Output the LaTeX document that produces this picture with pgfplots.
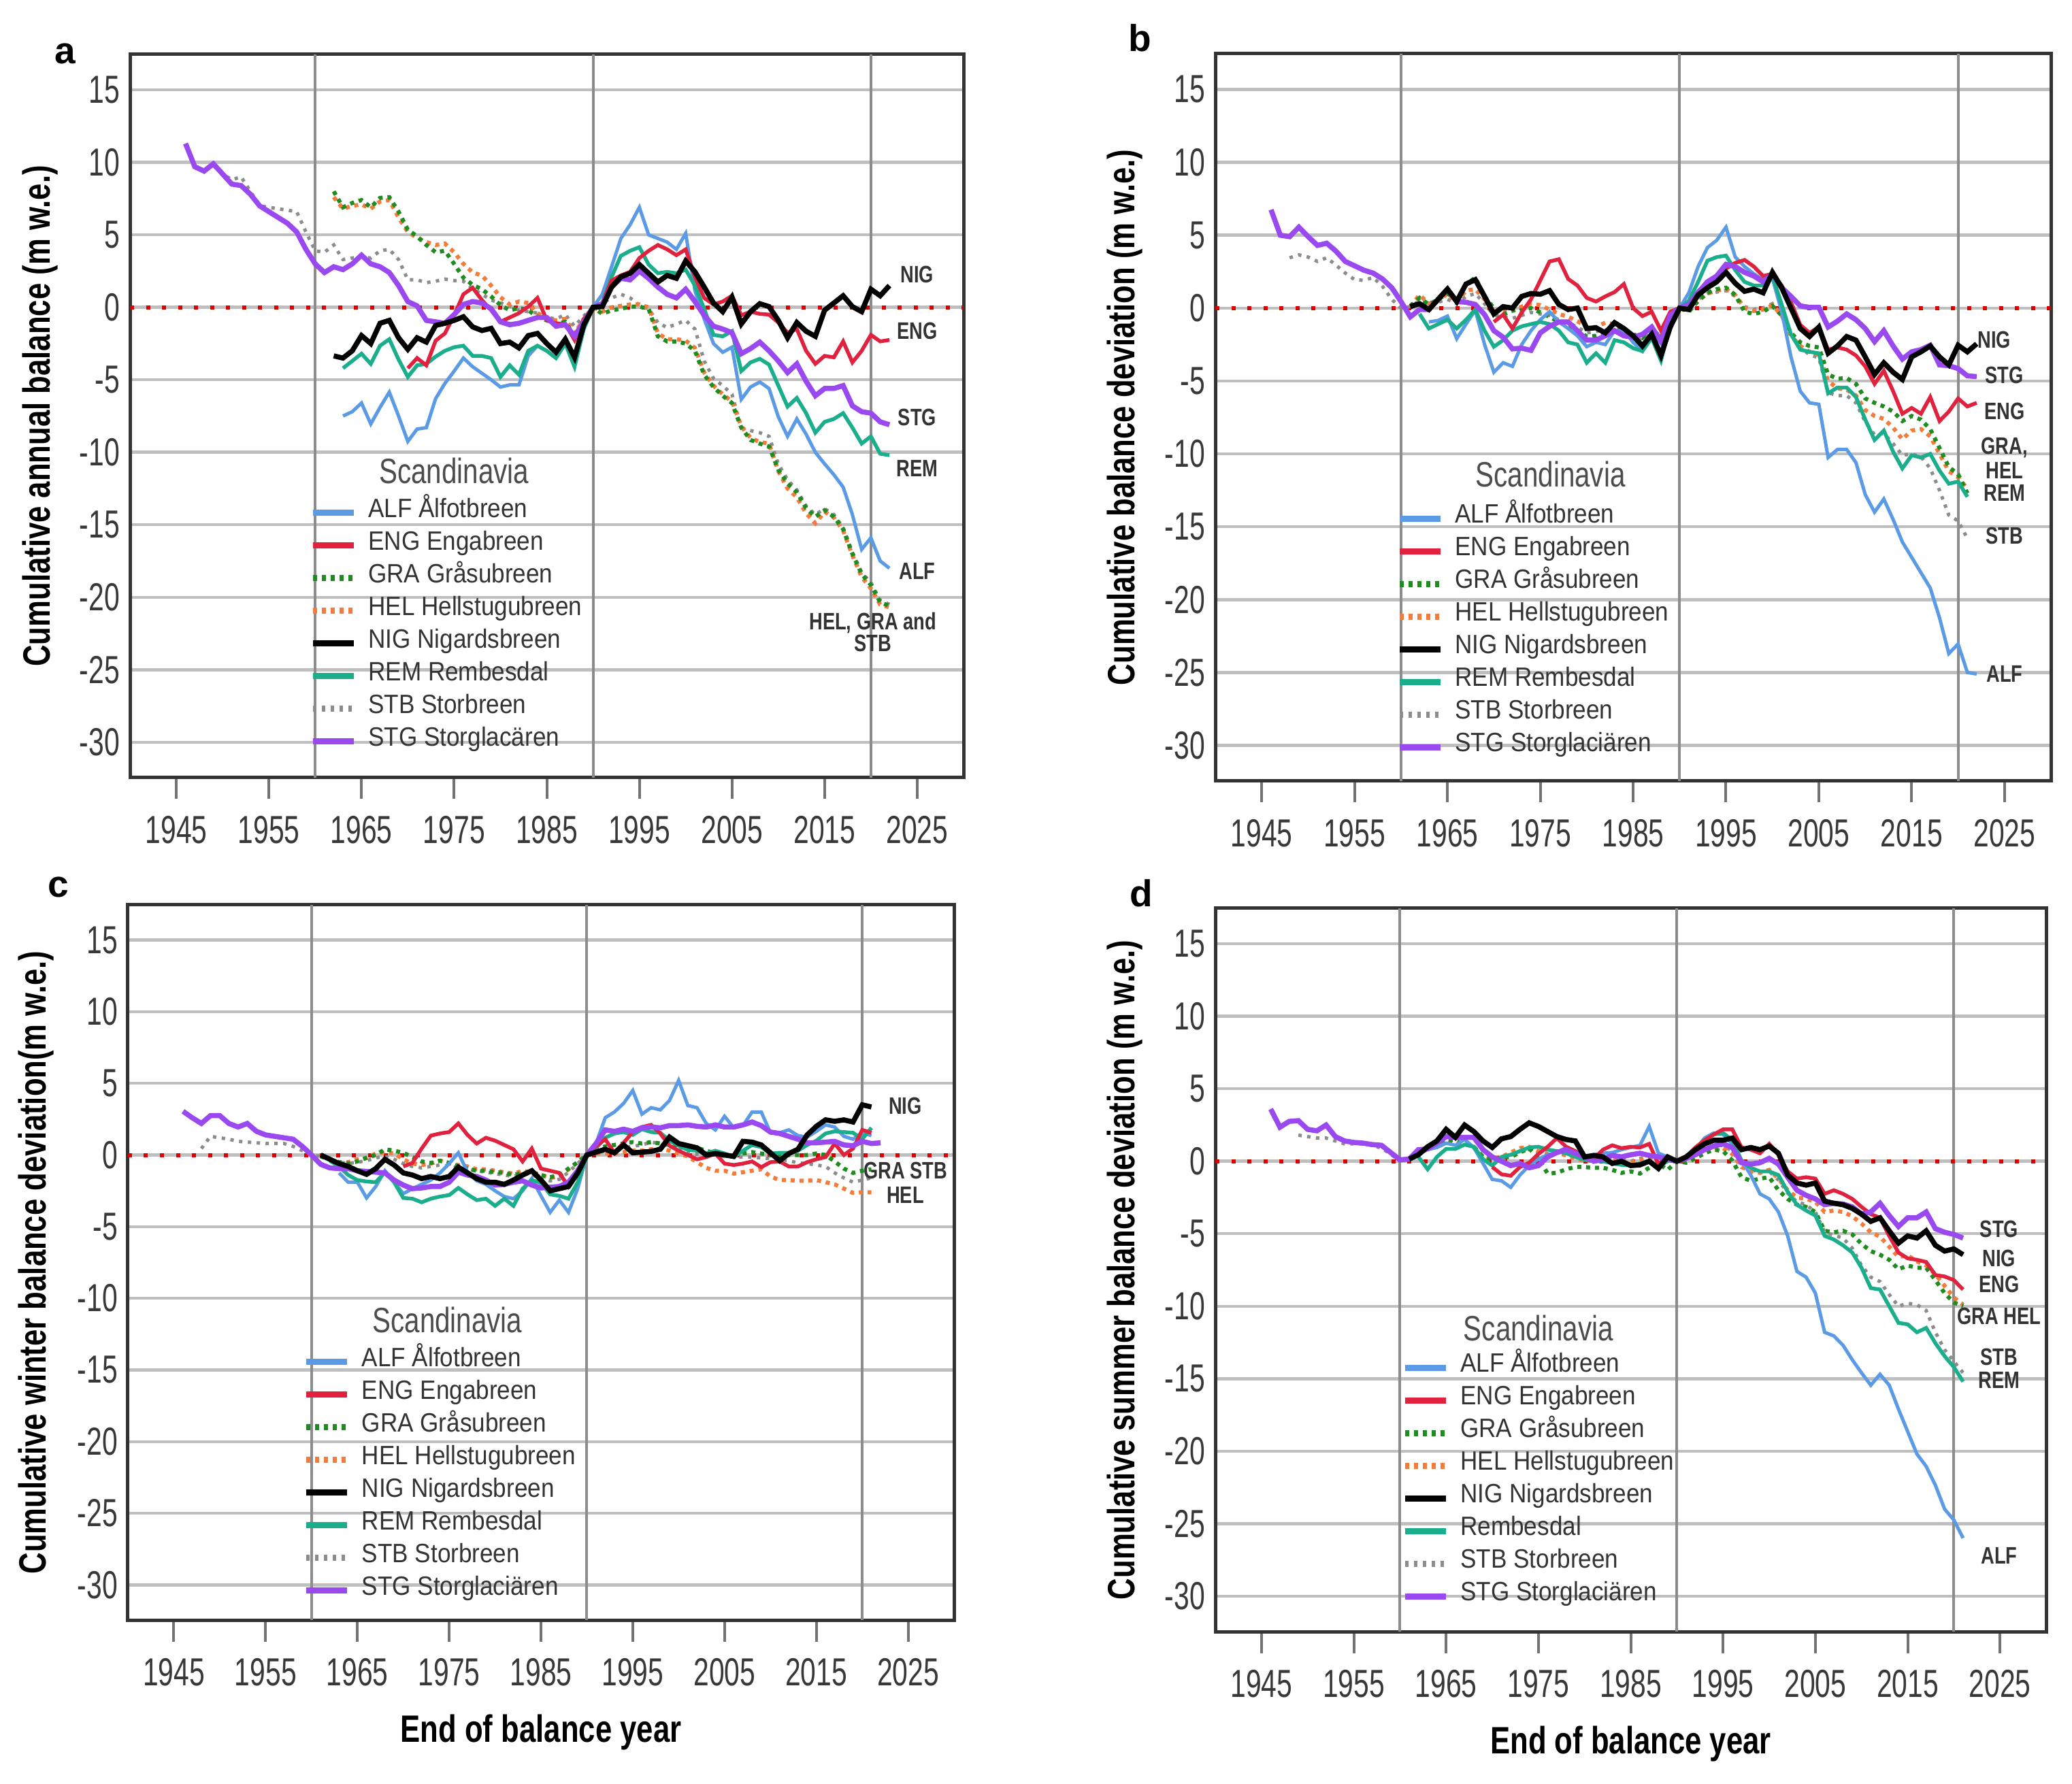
\documentclass[border=0pt]{standalone}
\usepackage{fontspec}
\setmainfont{Liberation Sans}
\newfontfamily\nar{Liberation Sans}[FakeStretch=0.78]
\newfontfamily\narr{Liberation Sans}[FakeStretch=0.71]
\newfontfamily\narb{Liberation Sans}[FakeStretch=0.9]
\usepackage{pgfplots}
\pgfplotsset{compat=1.18}

\definecolor{cALF}{HTML}{5B9BE6}
\definecolor{cENG}{HTML}{E0223F}
\definecolor{cGRA}{HTML}{1E8C1E}
\definecolor{cHEL}{HTML}{F47B3A}
\definecolor{cREM}{HTML}{1AAE8C}
\definecolor{cSTB}{HTML}{8C8C8C}
\definecolor{cSTG}{HTML}{9A48F0}

\newcommand\labf{\nar\bfseries\fontsize{7}{8}\selectfont}

\pgfplotsset{
  sALF/.style={cALF, line width=1pt},
  sENG/.style={cENG, line width=1.1pt},
  sGRA/.style={cGRA, line width=1.2pt, dash pattern=on 1.2pt off 1.4pt},
  sHEL/.style={cHEL, line width=1.2pt, dash pattern=on 1.2pt off 1.4pt},
  sNIG/.style={black, line width=1.5pt},
  sREM/.style={cREM, line width=1.1pt},
  sSTB/.style={cSTB, line width=1pt, dash pattern=on 1pt off 1.6pt},
  sSTG/.style={cSTG, line width=1.5pt},
  panel/.style={
    scale only axis, anchor=south west,
    xmin=1940, xmax=2030, ymin=-32.45, ymax=17.45,
    xtick={1945,1955,...,2025}, ytick={-30,-25,...,15},
    xtick pos=left, ytick pos=left,
    tick align=outside, major tick length=6.3pt,
    xtick style={black!55, line width=0.8pt},
    ytick style={draw=none},
    ymajorgrids,
    major grid style={black!25, line width=0.9pt},
    axis line style={black!80, line width=1pt},
    tick label style={font=\narr\fontsize{11.5}{13}\selectfont, text=black!78},
    xticklabel style={yshift=-1.5pt},
    yticklabel style={xshift=6.8pt},
    /pgf/number format/assume math mode=true,
    /pgf/number format/1000 sep={},
    every axis y label/.style={at={(axis description cs:-0.108,0.5)}, rotate=90, anchor=center,
      font=\nar\bfseries\fontsize{11.2}{13}\selectfont},
    every axis x label/.style={at={(axis description cs:0.5,0)}, anchor=center, yshift=-33pt,
      font=\nar\bfseries\fontsize{11.2}{13}\selectfont},
    legend cell align=left,
    legend style={draw=none, fill=none, anchor=north west, inner sep=0pt, outer sep=0pt,
      font=\narb\fontsize{7.8}{9}\selectfont, text=black!80, row sep=0pt,
      nodes={inner ysep=0pt, inner xsep=1.85pt, text height=6.1pt, text depth=3.5pt},
      /tikz/every odd column/.append style={column sep=1.6pt}},
    legend image code/.code={\draw[#1, line width=1.8pt] (0pt,0pt) -- (12pt,0pt);},
  },
}

\newcommand\panelgrid{%
  \draw[black!45, line width=0.8pt] (axis cs:1960,-32.45) -- (axis cs:1960,17.45);
  \draw[black!45, line width=0.8pt] (axis cs:1990,-32.45) -- (axis cs:1990,17.45);
  \draw[black!45, line width=0.8pt] (axis cs:2020,-32.45) -- (axis cs:2020,17.45);
  \draw[red!85!black, line width=1.2pt, dash pattern=on 1.2pt off 3.5pt] (axis cs:1940,0) -- (axis cs:2030,0);
}
\newcommand\legendentries{%
  \addlegendimage{sALF}\addlegendentry{ALF Ålfotbreen}
  \addlegendimage{sENG}\addlegendentry{ENG Engabreen}
  \addlegendimage{sGRA}\addlegendentry{GRA Gråsubreen}
  \addlegendimage{sHEL}\addlegendentry{HEL Hellstugubreen}
  \addlegendimage{sNIG}\addlegendentry{NIG Nigardsbreen}
}

\begin{document}
\begin{tikzpicture}
\path[use as bounding box] (0,0) rectangle (609pt,524.2pt);

% ---------------- a: cumulative annual balance
\begin{axis}[panel, at={(38.2pt,295.6pt)}, width=245pt, height=212.6pt,
  ylabel={Cumulative annual balance (m w.e.)},
  legend style={at={(axis cs:1959.4,-13.06)}}]
\panelgrid
\addplot[sSTB, forget plot] coordinates {(1949,9.8)(1950,9.2)(1951,8.8)(1952,9.0)(1953,8.0)(1954,7.0)(1955,6.9)(1956,6.8)(1957,6.7)(1958,6.6)(1959,5.2)(1960,3.9)(1961,3.8)(1962,4.3)(1963,3.3)(1964,3.4)(1965,3.5)(1966,3.4)(1967,3.9)(1968,4.0)(1969,3.3)(1970,1.9)(1971,1.9)(1972,1.7)(1973,1.8)(1974,1.95)(1975,1.85)(1976,1.8)(1977,1.3)(1978,0.9)(1979,0.5)(1980,0.3)(1981,0.1)(1982,-0.2)(1983,-0.3)(1984,-0.4)(1985,-0.7)(1986,-0.8)(1987,-0.5)(1988,-1.3)(1989,-0.6)(1990,0)(1991,0.3)(1992,0.65)(1993,0.9)(1994,0.65)(1995,0.15)(1996,-0.1)(1997,-1.05)(1998,-1.4)(1999,-1.15)(2000,-0.9)(2001,-1.5)(2002,-3.7)(2003,-4.9)(2004,-5.4)(2005,-6.0)(2006,-8.3)(2007,-8.5)(2008,-8.65)(2009,-8.9)(2010,-10.8)(2011,-11.9)(2012,-12.6)(2013,-13.7)(2014,-14.3)(2015,-13.9)(2016,-14.3)(2017,-15.2)(2018,-16.9)(2019,-18.3)(2020,-19.0)(2021,-20.2)(2022,-20.5)};
\addplot[sHEL, forget plot] coordinates {(1962,7.6)(1963,6.8)(1964,7.0)(1965,7.1)(1966,6.8)(1967,7.3)(1968,7.4)(1969,6.2)(1970,5.2)(1971,4.8)(1972,4.5)(1973,4.3)(1974,4.4)(1975,3.8)(1976,3.0)(1977,2.4)(1978,2.2)(1979,1.5)(1980,0.7)(1981,0.2)(1982,0.4)(1983,0.3)(1984,-0.4)(1985,-0.8)(1986,-0.9)(1987,-0.8)(1988,-1.8)(1989,-0.8)(1990,0)(1991,-0.3)(1992,0.0)(1993,0.1)(1994,0.2)(1995,0.2)(1996,0.0)(1997,-1.8)(1998,-2.2)(1999,-2.2)(2000,-2.3)(2001,-2.8)(2002,-4.5)(2003,-5.4)(2004,-6.0)(2005,-6.5)(2006,-8.2)(2007,-9.0)(2008,-9.3)(2009,-9.4)(2010,-11.3)(2011,-12.5)(2012,-13.1)(2013,-14.2)(2014,-14.9)(2015,-14.1)(2016,-14.5)(2017,-15.4)(2018,-17.1)(2019,-18.6)(2020,-19.4)(2021,-20.5)(2022,-20.7)};
\addplot[sGRA, forget plot] coordinates {(1962,8.0)(1963,6.9)(1964,7.2)(1965,7.4)(1966,6.9)(1967,7.55)(1968,7.6)(1969,6.6)(1970,5.35)(1971,4.9)(1972,4.3)(1973,3.8)(1974,3.9)(1975,3.0)(1976,2.05)(1977,1.55)(1978,1.25)(1979,0.75)(1980,0.15)(1981,-0.2)(1982,-0.05)(1983,-0.2)(1984,-0.65)(1985,-0.9)(1986,-1.15)(1987,-1.0)(1988,-2.0)(1989,-0.9)(1990,0)(1991,-0.45)(1992,-0.2)(1993,-0.1)(1994,0.05)(1995,0.05)(1996,-0.1)(1997,-2.0)(1998,-2.35)(1999,-2.35)(2000,-2.5)(2001,-3.0)(2002,-4.65)(2003,-5.5)(2004,-6.1)(2005,-6.6)(2006,-8.3)(2007,-9.15)(2008,-9.4)(2009,-9.6)(2010,-11.2)(2011,-12.15)(2012,-12.75)(2013,-13.85)(2014,-14.45)(2015,-14.0)(2016,-14.45)(2017,-15.3)(2018,-17.0)(2019,-18.4)(2020,-19.15)(2021,-20.35)(2022,-20.6)};
\addplot[sALF, forget plot] coordinates {(1963,-7.5)(1964,-7.2)(1965,-6.6)(1966,-8.05)(1967,-6.9)(1968,-5.85)(1969,-7.5)(1970,-9.25)(1971,-8.4)(1972,-8.3)(1973,-6.3)(1974,-5.25)(1975,-4.4)(1976,-3.5)(1977,-4.1)(1978,-4.55)(1979,-5.0)(1980,-5.5)(1981,-5.35)(1982,-5.35)(1983,-3.35)(1984,-2.65)(1985,-3.0)(1986,-3.5)(1987,-2.3)(1988,-3.7)(1989,-1.2)(1990,0)(1991,0.9)(1992,2.8)(1993,4.75)(1994,5.7)(1995,6.9)(1996,5.0)(1997,4.75)(1998,4.5)(1999,4.0)(2000,5.1)(2001,1.15)(2002,-0.8)(2003,-2.5)(2004,-3.1)(2005,-2.75)(2006,-6.35)(2007,-5.5)(2008,-5.15)(2009,-5.6)(2010,-7.55)(2011,-8.9)(2012,-7.7)(2013,-8.75)(2014,-10.0)(2015,-10.8)(2016,-11.55)(2017,-12.4)(2018,-14.3)(2019,-16.7)(2020,-15.9)(2021,-17.5)(2022,-18.0)};
\addplot[sREM, forget plot] coordinates {(1963,-4.2)(1964,-3.7)(1965,-3.2)(1966,-3.9)(1967,-2.65)(1968,-2.2)(1969,-3.6)(1970,-4.8)(1971,-4.0)(1972,-3.9)(1973,-3.4)(1974,-3.0)(1975,-2.75)(1976,-2.65)(1977,-3.35)(1978,-3.35)(1979,-3.5)(1980,-4.8)(1981,-4.0)(1982,-4.65)(1983,-3.0)(1984,-2.65)(1985,-3.0)(1986,-3.5)(1987,-2.5)(1988,-4.1)(1989,-1.5)(1990,0)(1991,0.3)(1992,2.1)(1993,3.55)(1994,3.9)(1995,4.15)(1996,2.95)(1997,2.35)(1998,2.45)(1999,2.35)(2000,2.6)(2001,1.5)(2002,-0.1)(2003,-1.9)(2004,-2.0)(2005,-1.65)(2006,-4.4)(2007,-3.8)(2008,-3.55)(2009,-3.95)(2010,-5.4)(2011,-6.85)(2012,-6.25)(2013,-7.3)(2014,-8.65)(2015,-7.9)(2016,-7.7)(2017,-7.3)(2018,-8.3)(2019,-9.4)(2020,-8.9)(2021,-10.1)(2022,-10.2)};
\addplot[sENG, forget plot] coordinates {(1970,-4.2)(1971,-3.5)(1972,-4.0)(1973,-2.3)(1974,-1.8)(1975,-0.55)(1976,0.9)(1977,1.35)(1978,0.5)(1979,-0.2)(1980,-1.0)(1981,-0.7)(1982,-0.4)(1983,0.05)(1984,0.65)(1985,-0.9)(1986,-1.1)(1987,-1.15)(1988,-2.25)(1989,-0.8)(1990,0)(1991,0.3)(1992,1.85)(1993,2.2)(1994,2.45)(1995,3.4)(1996,3.9)(1997,4.3)(1998,4.0)(1999,3.6)(2000,4.0)(2001,2.1)(2002,0.65)(2003,0.2)(2004,0.4)(2005,0.8)(2006,-0.55)(2007,-0.3)(2008,-0.45)(2009,-0.5)(2010,-1.05)(2011,-1.75)(2012,-1.5)(2013,-3.0)(2014,-3.9)(2015,-3.35)(2016,-3.45)(2017,-2.35)(2018,-3.8)(2019,-3.0)(2020,-1.9)(2021,-2.35)(2022,-2.25)};
\addplot[sSTG, forget plot] coordinates {(1946,11.3)(1947,9.7)(1948,9.4)(1949,9.9)(1950,9.2)(1951,8.5)(1952,8.4)(1953,7.8)(1954,7.0)(1955,6.6)(1956,6.2)(1957,5.8)(1958,5.2)(1959,4.0)(1960,3.0)(1961,2.4)(1962,2.8)(1963,2.6)(1964,3.0)(1965,3.6)(1966,3.0)(1967,2.8)(1968,2.4)(1969,1.5)(1970,0.4)(1971,0.1)(1972,-0.9)(1973,-1.0)(1974,-1.1)(1975,-0.5)(1976,0.2)(1977,0.4)(1978,0.3)(1979,-0.1)(1980,-1.0)(1981,-1.2)(1982,-1.1)(1983,-0.9)(1984,-0.7)(1985,-0.7)(1986,-1.3)(1987,-1.2)(1988,-2.0)(1989,-1.0)(1990,0)(1991,0.2)(1992,1.4)(1993,2.0)(1994,1.9)(1995,2.5)(1996,2.0)(1997,1.4)(1998,0.9)(1999,0.65)(2000,1.25)(2001,0.4)(2002,-0.55)(2003,-1.3)(2004,-1.5)(2005,-1.75)(2006,-3.2)(2007,-2.85)(2008,-2.4)(2009,-3.0)(2010,-3.7)(2011,-4.5)(2012,-3.9)(2013,-5.1)(2014,-6.1)(2015,-5.6)(2016,-5.6)(2017,-5.4)(2018,-6.8)(2019,-7.2)(2020,-7.3)(2021,-7.9)(2022,-8.1)};
\addplot[sNIG, forget plot] coordinates {(1962,-3.35)(1963,-3.5)(1964,-3.0)(1965,-1.95)(1966,-2.5)(1967,-1.1)(1968,-0.9)(1969,-2.1)(1970,-2.9)(1971,-2.1)(1972,-2.4)(1973,-1.25)(1974,-1.1)(1975,-0.9)(1976,-0.65)(1977,-1.35)(1978,-1.6)(1979,-1.45)(1980,-2.5)(1981,-2.4)(1982,-2.8)(1983,-1.95)(1984,-1.8)(1985,-2.5)(1986,-3.1)(1987,-2.2)(1988,-3.45)(1989,-1.2)(1990,0)(1991,0.05)(1992,1.4)(1993,2.1)(1994,2.35)(1995,2.95)(1996,2.35)(1997,1.75)(1998,2.2)(1999,2.0)(2000,3.2)(2001,2.45)(2002,1.4)(2003,0.3)(2004,-0.3)(2005,0.7)(2006,-1.15)(2007,-0.3)(2008,0.25)(2009,0.05)(2010,-0.9)(2011,-2.1)(2012,-1.05)(2013,-1.65)(2014,-2.0)(2015,-0.2)(2016,0.3)(2017,0.8)(2018,0.05)(2019,-0.3)(2020,1.25)(2021,0.8)(2022,1.5)};
\legendentries
\addlegendimage{sREM}\addlegendentry{REM Rembesdal}
\addlegendimage{sSTB}\addlegendentry{STB Storbreen}
\addlegendimage{sSTG}\addlegendentry{STG Storglacären}
\node[font=\nar\fontsize{10.35}{12}\selectfont, text=black!70] at (axis cs:1975.0,-11.26) {Scandinavia};
\node[font=\labf, text=black!80] at (axis cs:2025,2.26) {NIG};
\node[font=\labf, text=black!80] at (axis cs:2025,-1.64) {ENG};
\node[font=\labf, text=black!80] at (axis cs:2025,-7.6) {STG};
\node[font=\labf, text=black!80] at (axis cs:2025,-11.1) {REM};
\node[font=\labf, text=black!80] at (axis cs:2025,-18.2) {ALF};
\node[font=\labf, text=black!80, align=center, inner sep=0pt] at (axis cs:2020.2,-22.4) {HEL, GRA and\\[-1.5pt]STB};
\end{axis}

% ---------------- b: cumulative balance deviation
\begin{axis}[panel, at={(357.2pt,294.6pt)}, width=245.6pt, height=213.8pt,
  ylabel={Cumulative balance deviation (m w.e.)},
  legend style={at={(axis cs:1959.5,-13.33)}}]
\panelgrid
\addplot[sSTB, forget plot] coordinates {(1948,3.45)(1949,3.65)(1950,3.5)(1951,3.2)(1952,3.45)(1953,2.95)(1954,2.4)(1955,1.95)(1956,1.9)(1957,2.1)(1958,1.5)(1959,0.6)(1960,0.0)(1961,0.1)(1962,0.5)(1963,0.2)(1964,0.4)(1965,0.6)(1966,0.3)(1967,0.8)(1968,1.0)(1969,0.3)(1970,-0.5)(1971,-0.6)(1972,-0.7)(1973,-0.5)(1974,-0.3)(1975,-0.4)(1976,-0.5)(1977,-0.8)(1978,-1.0)(1979,-1.3)(1980,-1.7)(1981,-1.6)(1982,-1.5)(1983,-1.5)(1984,-1.8)(1985,-2.0)(1986,-2.2)(1987,-1.6)(1988,-2.1)(1989,-0.7)(1990,0)(1991,0.0)(1992,0.6)(1993,1.0)(1994,1.1)(1995,1.2)(1996,0.8)(1997,0.1)(1998,-0.1)(1999,0.0)(2000,0.3)(2001,-0.5)(2002,-1.9)(2003,-2.7)(2004,-3.2)(2005,-3.4)(2006,-5.8)(2007,-6.0)(2008,-6.0)(2009,-6.5)(2010,-7.8)(2011,-8.7)(2012,-8.6)(2013,-9.3)(2014,-10.1)(2015,-10.0)(2016,-10.2)(2017,-11.0)(2018,-12.5)(2019,-14.2)(2020,-14.6)(2021,-15.8)};
\addplot[sHEL, forget plot] coordinates {(1961,0.1)(1962,0.9)(1963,0.3)(1964,0.5)(1965,1.0)(1966,0.4)(1967,1.2)(1968,1.3)(1969,0.6)(1970,-0.2)(1971,-0.3)(1972,-0.2)(1973,0.1)(1974,0.3)(1975,0.2)(1976,-0.1)(1977,-0.4)(1978,-0.6)(1979,-0.9)(1980,-1.3)(1981,-1.3)(1982,-1.0)(1983,-1.1)(1984,-1.5)(1985,-1.8)(1986,-2.0)(1987,-1.4)(1988,-2.0)(1989,-0.6)(1990,0)(1991,-0.2)(1992,0.5)(1993,1.0)(1994,1.2)(1995,1.3)(1996,0.9)(1997,0.0)(1998,-0.2)(1999,-0.1)(2000,0.2)(2001,-0.5)(2002,-1.9)(2003,-2.6)(2004,-3.0)(2005,-3.2)(2006,-5.0)(2007,-5.5)(2008,-5.6)(2009,-6.0)(2010,-7.0)(2011,-7.4)(2012,-7.6)(2013,-8.2)(2014,-9.0)(2015,-8.4)(2016,-8.3)(2017,-8.8)(2018,-10.0)(2019,-11.2)(2020,-11.6)(2021,-12.4)};
\addplot[sGRA, forget plot] coordinates {(1961,0.15)(1962,0.7)(1963,0.25)(1964,0.6)(1965,1.0)(1966,0.6)(1967,1.6)(1968,2.1)(1969,0.8)(1970,0.0)(1971,-0.45)(1972,-0.15)(1973,-0.15)(1974,0.0)(1975,-0.3)(1976,-0.6)(1977,-0.95)(1978,-1.25)(1979,-1.55)(1980,-1.95)(1981,-1.9)(1982,-1.7)(1983,-1.4)(1984,-1.55)(1985,-1.8)(1986,-2.05)(1987,-1.5)(1988,-2.05)(1989,-0.6)(1990,0)(1991,-0.25)(1992,0.5)(1993,1.05)(1994,1.3)(1995,1.4)(1996,0.9)(1997,-0.25)(1998,-0.4)(1999,-0.25)(2000,0.15)(2001,-0.5)(2002,-1.7)(2003,-2.35)(2004,-2.6)(2005,-2.7)(2006,-4.55)(2007,-4.85)(2008,-4.8)(2009,-5.2)(2010,-6.2)(2011,-6.5)(2012,-6.75)(2013,-7.1)(2014,-7.75)(2015,-7.4)(2016,-7.65)(2017,-8.3)(2018,-9.6)(2019,-10.9)(2020,-11.4)(2021,-12.7)};
\addplot[sALF, forget plot] coordinates {(1963,-0.95)(1964,-0.85)(1965,-0.55)(1966,-2.1)(1967,-1.1)(1968,-0.15)(1969,-2.5)(1970,-4.4)(1971,-3.75)(1972,-4.0)(1973,-2.5)(1974,-1.55)(1975,-0.8)(1976,-0.25)(1977,-0.95)(1978,-1.4)(1979,-1.9)(1980,-2.65)(1981,-2.35)(1982,-2.5)(1983,-1.55)(1984,-1.55)(1985,-2.35)(1986,-2.95)(1987,-1.55)(1988,-3.1)(1989,-0.8)(1990,0)(1991,1.05)(1992,2.85)(1993,4.15)(1994,4.65)(1995,5.55)(1996,3.5)(1997,2.85)(1998,2.35)(1999,1.95)(2000,2.05)(2001,-0.25)(2002,-3.35)(2003,-5.7)(2004,-6.5)(2005,-6.6)(2006,-10.25)(2007,-9.7)(2008,-9.7)(2009,-10.6)(2010,-12.8)(2011,-14.0)(2012,-13.1)(2013,-14.5)(2014,-16.05)(2015,-17.1)(2016,-18.15)(2017,-19.2)(2018,-21.25)(2019,-23.7)(2020,-23.05)(2021,-25.0)(2022,-25.1)};
\addplot[sREM, forget plot] coordinates {(1962,-0.4)(1963,-1.4)(1964,-1.1)(1965,-0.8)(1966,-1.4)(1967,-0.8)(1968,-0.1)(1969,-1.55)(1970,-2.65)(1971,-2.2)(1972,-1.55)(1973,-1.25)(1974,-1.1)(1975,-0.95)(1976,-1.1)(1977,-1.55)(1978,-2.35)(1979,-2.5)(1980,-3.75)(1981,-3.1)(1982,-3.75)(1983,-2.2)(1984,-2.35)(1985,-2.75)(1986,-2.95)(1987,-2.05)(1988,-3.6)(1989,-1.15)(1990,0)(1991,0.5)(1992,1.8)(1993,3.25)(1994,3.5)(1995,3.6)(1996,2.6)(1997,1.8)(1998,1.55)(1999,1.55)(2000,2.2)(2001,0.25)(2002,-1.8)(2003,-2.85)(2004,-3.0)(2005,-3.1)(2006,-5.85)(2007,-5.45)(2008,-5.45)(2009,-6.1)(2010,-7.65)(2011,-9.05)(2012,-8.4)(2013,-9.85)(2014,-11.0)(2015,-10.1)(2016,-10.25)(2017,-10.0)(2018,-11.15)(2019,-12.05)(2020,-11.9)(2021,-12.95)};
\addplot[sENG, forget plot] coordinates {(1970,-0.95)(1971,-0.45)(1972,-1.4)(1973,-0.3)(1974,0.6)(1975,1.9)(1976,3.2)(1977,3.35)(1978,2.0)(1979,1.55)(1980,0.7)(1981,0.45)(1982,0.8)(1983,1.1)(1984,1.65)(1985,0.0)(1986,-0.55)(1987,-0.25)(1988,-1.55)(1989,-0.25)(1990,0)(1991,0.15)(1992,1.15)(1993,1.8)(1994,2.05)(1995,2.7)(1996,3.1)(1997,3.3)(1998,2.85)(1999,2.2)(2000,2.35)(2001,1.55)(2002,0.4)(2003,-1.15)(2004,-1.7)(2005,-1.3)(2006,-2.85)(2007,-2.7)(2008,-2.85)(2009,-3.25)(2010,-4.0)(2011,-5.2)(2012,-4.3)(2013,-5.7)(2014,-7.25)(2015,-6.85)(2016,-7.25)(2017,-6.1)(2018,-7.75)(2019,-7.1)(2020,-6.2)(2021,-6.75)(2022,-6.5)};
\addplot[sSTG, forget plot] coordinates {(1946,6.75)(1947,5.0)(1948,4.9)(1949,5.55)(1950,4.9)(1951,4.3)(1952,4.45)(1953,3.9)(1954,3.2)(1955,2.9)(1956,2.6)(1957,2.4)(1958,2.0)(1959,1.4)(1960,0.45)(1961,-0.6)(1962,-0.1)(1963,-0.1)(1964,0.6)(1965,1.3)(1966,0.45)(1967,0.4)(1968,0.25)(1969,-0.45)(1970,-1.55)(1971,-2.0)(1972,-2.8)(1973,-2.75)(1974,-2.9)(1975,-1.7)(1976,-1.25)(1977,-0.95)(1978,-0.95)(1979,-1.55)(1980,-2.2)(1981,-2.2)(1982,-1.9)(1983,-1.55)(1984,-1.9)(1985,-2.0)(1986,-1.8)(1987,-1.3)(1988,-2.3)(1989,-0.5)(1990,0)(1991,0.25)(1992,1.05)(1993,1.8)(1994,2.2)(1995,3.0)(1996,2.85)(1997,2.45)(1998,2.2)(1999,1.8)(2000,2.35)(2001,1.4)(2002,0.8)(2003,0.15)(2004,0.05)(2005,0.05)(2006,-1.3)(2007,-0.9)(2008,-0.4)(2009,-0.8)(2010,-1.4)(2011,-2.3)(2012,-1.55)(2013,-2.6)(2014,-3.5)(2015,-3.0)(2016,-2.85)(2017,-2.55)(2018,-3.9)(2019,-3.95)(2020,-4.15)(2021,-4.65)(2022,-4.7)};
\addplot[sNIG, forget plot] coordinates {(1961,0.1)(1962,0.3)(1963,-0.1)(1964,0.6)(1965,1.3)(1966,0.45)(1967,1.65)(1968,1.95)(1969,0.8)(1970,-0.4)(1971,0.1)(1972,0.0)(1973,0.8)(1974,1.0)(1975,0.95)(1976,1.2)(1977,0.25)(1978,-0.1)(1979,0.0)(1980,-1.4)(1981,-1.35)(1982,-1.7)(1983,-1.0)(1984,-1.4)(1985,-1.9)(1986,-2.6)(1987,-1.8)(1988,-3.25)(1989,-1.3)(1990,0)(1991,-0.1)(1992,0.9)(1993,1.4)(1994,1.8)(1995,2.45)(1996,1.7)(1997,1.15)(1998,1.3)(1999,1.05)(2000,2.45)(2001,1.4)(2002,0.0)(2003,-1.4)(2004,-1.95)(2005,-1.3)(2006,-3.1)(2007,-2.6)(2008,-1.95)(2009,-2.2)(2010,-3.35)(2011,-4.55)(2012,-3.75)(2013,-4.4)(2014,-4.9)(2015,-3.35)(2016,-3.0)(2017,-2.6)(2018,-3.35)(2019,-3.9)(2020,-2.55)(2021,-3.0)(2022,-2.45)};
\legendentries
\addlegendimage{sREM}\addlegendentry{REM Rembesdal}
\addlegendimage{sSTB}\addlegendentry{STB Storbreen}
\addlegendimage{sSTG}\addlegendentry{STG Storglaciären}
\node[font=\nar\fontsize{10.35}{12}\selectfont, text=black!70] at (axis cs:1976.1,-11.4) {Scandinavia};
\node[font=\labf, text=black!80] at (axis cs:2023.9,-2.2) {NIG};
\node[font=\labf, text=black!80] at (axis cs:2025,-4.6) {STG};
\node[font=\labf, text=black!80] at (axis cs:2025,-7.1) {ENG};
\node[font=\labf, text=black!80] at (axis cs:2025,-9.6) {GRA,};
\node[font=\labf, text=black!80] at (axis cs:2025,-11.15) {HEL};
\node[font=\labf, text=black!80] at (axis cs:2025,-12.7) {REM};
\node[font=\labf, text=black!80] at (axis cs:2025,-15.6) {STB};
\node[font=\labf, text=black!80] at (axis cs:2025,-25.1) {ALF};
\end{axis}

% ---------------- c: cumulative winter balance deviation
\begin{axis}[panel, at={(37.6pt,48.0pt)}, width=242.8pt, height=210.2pt,
  ylabel={Cumulative winter balance deviation(m w.e.)},
  every axis y label/.append style={at={(axis description cs:-0.1115,0.5)}},
  xlabel={End of balance year},
  legend style={at={(axis cs:1959.1,-13.31)}}]
\panelgrid
\addplot[sSTB, forget plot] coordinates {(1948,0.45)(1949,1.3)(1950,1.2)(1951,1.1)(1952,0.95)(1953,0.9)(1954,0.85)(1955,0.8)(1956,0.8)(1957,0.8)(1958,0.6)(1959,0.3)(1960,0.0)(1961,-0.1)(1962,-0.3)(1963,-0.5)(1964,-0.6)(1965,-0.5)(1966,-0.4)(1967,-0.2)(1968,-0.1)(1969,-0.3)(1970,-0.6)(1971,-0.8)(1972,-0.9)(1973,-0.8)(1974,-0.7)(1975,-0.8)(1976,-0.9)(1977,-1.0)(1978,-1.1)(1979,-1.2)(1980,-1.3)(1981,-1.4)(1982,-1.5)(1983,-1.3)(1984,-1.4)(1985,-1.6)(1986,-1.8)(1987,-1.7)(1988,-1.2)(1989,-0.6)(1990,0)(1991,0.1)(1992,0.3)(1993,0.4)(1994,0.5)(1995,0.6)(1996,0.7)(1997,0.9)(1998,0.8)(1999,0.6)(2000,0.4)(2001,0.1)(2002,0.05)(2003,0.0)(2004,0.0)(2005,-0.1)(2006,-0.15)(2007,-0.15)(2008,-0.15)(2009,-0.2)(2010,-0.25)(2011,-0.3)(2012,-0.4)(2013,-0.55)(2014,-0.6)(2015,-0.7)(2016,-0.8)(2017,-1.25)(2018,-1.6)(2019,-1.9)(2020,-1.75)(2021,-1.6)};
\addplot[sHEL, forget plot] coordinates {(1961,-0.1)(1962,-0.3)(1963,-0.5)(1964,-0.5)(1965,-0.3)(1966,-0.2)(1967,0.1)(1968,0.2)(1969,0.1)(1970,-0.3)(1971,-0.6)(1972,-0.7)(1973,-0.6)(1974,-0.4)(1975,-0.6)(1976,-0.7)(1977,-0.8)(1978,-1.0)(1979,-1.0)(1980,-1.1)(1981,-1.2)(1982,-1.3)(1983,-1.1)(1984,-1.2)(1985,-1.4)(1986,-1.6)(1987,-1.5)(1988,-1.0)(1989,-0.5)(1990,0)(1991,0.1)(1992,0.1)(1993,0.1)(1994,0.2)(1995,0.3)(1996,0.3)(1997,0.4)(1998,0.45)(1999,0.3)(2000,0.1)(2001,-0.1)(2002,-0.5)(2003,-0.9)(2004,-1.1)(2005,-1.1)(2006,-1.3)(2007,-1.2)(2008,-1.1)(2009,-1.0)(2010,-1.5)(2011,-1.75)(2012,-1.75)(2013,-1.8)(2014,-1.8)(2015,-1.75)(2016,-1.9)(2017,-2.05)(2018,-2.35)(2019,-2.65)(2020,-2.6)(2021,-2.6)};
\addplot[sGRA, forget plot] coordinates {(1961,-0.1)(1962,-0.3)(1963,-0.5)(1964,-0.6)(1965,-0.45)(1966,-0.2)(1967,0.0)(1968,0.4)(1969,0.3)(1970,0.15)(1971,-0.15)(1972,-0.45)(1973,-0.55)(1974,-0.4)(1975,-0.55)(1976,-0.8)(1977,-0.95)(1978,-1.1)(1979,-1.1)(1980,-1.2)(1981,-1.25)(1982,-1.4)(1983,-1.25)(1984,-1.2)(1985,-1.4)(1986,-1.55)(1987,-1.4)(1988,-0.95)(1989,-0.5)(1990,0)(1991,0.4)(1992,0.6)(1993,0.7)(1994,0.8)(1995,0.9)(1996,0.8)(1997,0.9)(1998,0.8)(1999,0.7)(2000,0.7)(2001,0.65)(2002,0.5)(2003,0.3)(2004,0.1)(2005,0.0)(2006,0.0)(2007,0.1)(2008,0.2)(2009,0.1)(2010,0.0)(2011,-0.1)(2012,0.0)(2013,0.0)(2014,0.0)(2015,0.1)(2016,0.0)(2017,-0.45)(2018,-0.95)(2019,-1.25)(2020,-1.1)(2021,-1.0)};
\addplot[sALF, forget plot] coordinates {(1963,-1.25)(1964,-1.9)(1965,-1.9)(1966,-3.0)(1967,-2.2)(1968,-1.1)(1969,-1.9)(1970,-2.7)(1971,-2.35)(1972,-2.05)(1973,-1.75)(1974,-1.25)(1975,-0.6)(1976,0.15)(1977,-1.2)(1978,-1.8)(1979,-2.05)(1980,-2.5)(1981,-2.9)(1982,-3.05)(1983,-2.5)(1984,-1.65)(1985,-2.85)(1986,-4.0)(1987,-3.15)(1988,-4.0)(1989,-2.35)(1990,0)(1991,0.8)(1992,2.6)(1993,3.0)(1994,3.6)(1995,4.5)(1996,2.85)(1997,3.3)(1998,3.15)(1999,3.8)(2000,5.2)(2001,3.45)(2002,3.3)(2003,2.2)(2004,1.75)(2005,2.7)(2006,1.9)(2007,2.05)(2008,3.0)(2009,3.0)(2010,1.55)(2011,1.55)(2012,1.75)(2013,1.35)(2014,1.25)(2015,1.65)(2016,2.1)(2017,1.95)(2018,1.3)(2019,1.1)(2020,1.55)(2021,1.35)};
\addplot[sREM, forget plot] coordinates {(1962,-0.4)(1963,-0.8)(1964,-1.4)(1965,-1.75)(1966,-1.85)(1967,-1.9)(1968,-1.2)(1969,-1.9)(1970,-3.0)(1971,-3.05)(1972,-3.3)(1973,-3.05)(1974,-2.9)(1975,-2.8)(1976,-2.3)(1977,-2.75)(1978,-3.15)(1979,-3.05)(1980,-3.55)(1981,-3.05)(1982,-3.55)(1983,-2.35)(1984,-1.75)(1985,-1.95)(1986,-2.75)(1987,-2.85)(1988,-3.05)(1989,-1.9)(1990,0)(1991,0.5)(1992,1.2)(1993,1.5)(1994,1.6)(1995,1.4)(1996,1.8)(1997,1.6)(1998,1.55)(1999,1.0)(2000,0.65)(2001,0.35)(2002,0.3)(2003,0.1)(2004,0.3)(2005,0.1)(2006,-0.15)(2007,0.3)(2008,0.7)(2009,0.55)(2010,0.1)(2011,0.15)(2012,0.15)(2013,0.3)(2014,0.7)(2015,1.0)(2016,1.5)(2017,1.65)(2018,1.6)(2019,1.55)(2020,1.1)(2021,1.9)};
\addplot[sENG, forget plot] coordinates {(1970,-0.8)(1971,-0.55)(1972,0.45)(1973,1.35)(1974,1.5)(1975,1.6)(1976,2.2)(1977,1.4)(1978,0.8)(1979,1.2)(1980,1.0)(1981,0.7)(1982,0.4)(1983,-0.45)(1984,0.45)(1985,-0.95)(1986,-1.1)(1987,-1.25)(1988,-2.2)(1989,-1.1)(1990,0)(1991,0.6)(1992,1.1)(1993,0.15)(1994,0.85)(1995,1.6)(1996,1.95)(1997,2.1)(1998,1.5)(1999,0.65)(2000,0.3)(2001,0.0)(2002,-0.3)(2003,-0.15)(2004,0.1)(2005,-0.6)(2006,-0.7)(2007,-0.6)(2008,-0.45)(2009,-0.85)(2010,-0.5)(2011,-0.45)(2012,-0.8)(2013,-0.8)(2014,-0.5)(2015,-0.3)(2016,-0.15)(2017,0.8)(2018,0.0)(2019,0.45)(2020,1.75)(2021,1.55)};
\addplot[sSTG, forget plot] coordinates {(1946,3.05)(1947,2.6)(1948,2.2)(1949,2.75)(1950,2.75)(1951,2.2)(1952,1.95)(1953,2.2)(1954,1.65)(1955,1.4)(1956,1.3)(1957,1.2)(1958,1.1)(1959,0.6)(1960,0.0)(1961,-0.65)(1962,-0.9)(1963,-0.95)(1964,-0.95)(1965,-1.1)(1966,-1.15)(1967,-1.2)(1968,-1.25)(1969,-1.75)(1970,-2.1)(1971,-2.35)(1972,-2.3)(1973,-2.2)(1974,-2.2)(1975,-1.9)(1976,-1.2)(1977,-1.4)(1978,-1.5)(1979,-1.75)(1980,-2.1)(1981,-2.05)(1982,-1.9)(1983,-1.8)(1984,-2.1)(1985,-2.3)(1986,-2.25)(1987,-2.2)(1988,-1.9)(1989,-1.1)(1990,0)(1991,0.8)(1992,1.75)(1993,1.65)(1994,1.8)(1995,1.65)(1996,1.9)(1997,1.95)(1998,1.9)(1999,2.05)(2000,2.05)(2001,2.1)(2002,2.0)(2003,1.95)(2004,2.1)(2005,1.95)(2006,1.95)(2007,2.1)(2008,2.3)(2009,2.05)(2010,1.6)(2011,1.5)(2012,1.3)(2013,1.1)(2014,0.85)(2015,0.85)(2016,0.9)(2017,0.95)(2018,0.7)(2019,0.65)(2020,0.95)(2021,0.8)(2022,0.85)};
\addplot[sNIG, forget plot] coordinates {(1961,0.0)(1962,-0.3)(1963,-0.6)(1964,-0.8)(1965,-1.1)(1966,-1.35)(1967,-0.95)(1968,-0.3)(1969,-0.7)(1970,-1.25)(1971,-1.4)(1972,-1.65)(1973,-1.5)(1974,-1.65)(1975,-1.5)(1976,-0.85)(1977,-1.25)(1978,-1.65)(1979,-1.9)(1980,-1.9)(1981,-2.05)(1982,-1.75)(1983,-1.4)(1984,-1.1)(1985,-1.75)(1986,-2.5)(1987,-2.35)(1988,-2.2)(1989,-1.25)(1990,0)(1991,0.2)(1992,0.4)(1993,0.15)(1994,0.7)(1995,0.15)(1996,0.2)(1997,0.25)(1998,0.4)(1999,1.25)(2000,0.8)(2001,0.65)(2002,0.5)(2003,0.0)(2004,0.1)(2005,0.0)(2006,-0.1)(2007,0.95)(2008,0.9)(2009,0.7)(2010,0.15)(2011,-0.4)(2012,0.1)(2013,0.4)(2014,1.4)(2015,2.0)(2016,2.45)(2017,2.35)(2018,2.45)(2019,2.3)(2020,3.5)(2021,3.35)};
\legendentries
\addlegendimage{sREM}\addlegendentry{REM Rembesdal}
\addlegendimage{sSTB}\addlegendentry{STB Storbreen}
\addlegendimage{sSTG}\addlegendentry{STG Storglaciären}
\node[font=\nar\fontsize{10.35}{12}\selectfont, text=black!70] at (axis cs:1974.8,-11.5) {Scandinavia};
\node[font=\labf, text=black!80] at (axis cs:2024.7,3.4) {NIG};
\node[font=\labf, text=black!80] at (axis cs:2024.7,-1.1) {GRA STB};
\node[font=\labf, text=black!80] at (axis cs:2024.7,-2.8) {HEL};
\end{axis}

% ---------------- d: cumulative summer balance deviation
\begin{axis}[panel, at={(357.2pt,44.6pt)}, width=244.2pt, height=212.6pt,
  ylabel={Cumulative summer balance deviation (m w.e.)},
  every axis y label/.append style={at={(axis description cs:-0.109,0.5)}},
  xlabel={End of balance year},
  legend style={at={(axis cs:1960.2,-13.11)}}]
\panelgrid
\addplot[sSTB, forget plot] coordinates {(1949,1.8)(1950,1.7)(1951,1.6)(1952,1.6)(1953,1.4)(1954,1.2)(1955,1.2)(1956,1.2)(1957,1.1)(1958,0.9)(1959,0.5)(1960,0.0)(1961,0.2)(1962,0.5)(1963,0.8)(1964,1.0)(1965,1.3)(1966,1.1)(1967,1.2)(1968,0.9)(1969,0.2)(1970,0.0)(1971,0.1)(1972,0.4)(1973,0.7)(1974,0.8)(1975,0.6)(1976,0.5)(1977,0.7)(1978,0.5)(1979,0.3)(1980,0.1)(1981,0.2)(1982,0.3)(1983,0.2)(1984,0.1)(1985,0.0)(1986,0.2)(1987,0.3)(1988,-0.3)(1989,0.1)(1990,0)(1991,0.2)(1992,0.5)(1993,0.9)(1994,1.1)(1995,1.1)(1996,0.7)(1997,-0.3)(1998,-0.6)(1999,-0.7)(2000,-0.7)(2001,-1.3)(2002,-2.2)(2003,-2.8)(2004,-3.0)(2005,-3.5)(2006,-4.9)(2007,-5.1)(2008,-5.3)(2009,-6.0)(2010,-7.2)(2011,-8.0)(2012,-8.3)(2013,-9.2)(2014,-10.0)(2015,-9.8)(2016,-9.9)(2017,-10.3)(2018,-11.8)(2019,-13.0)(2020,-13.8)(2021,-14.6)};
\addplot[sHEL, forget plot] coordinates {(1961,0.2)(1962,0.5)(1963,0.9)(1964,1.2)(1965,1.5)(1966,1.2)(1967,1.3)(1968,1.0)(1969,0.3)(1970,0.2)(1971,0.3)(1972,0.6)(1973,0.9)(1974,1.0)(1975,0.7)(1976,0.5)(1977,0.6)(1978,0.4)(1979,0.2)(1980,0.0)(1981,0.1)(1982,0.2)(1983,0.1)(1984,0.0)(1985,-0.1)(1986,0.1)(1987,0.2)(1988,-0.2)(1989,0.0)(1990,0)(1991,0.1)(1992,0.4)(1993,0.7)(1994,0.9)(1995,0.9)(1996,0.5)(1997,-0.4)(1998,-0.7)(1999,-0.8)(2000,-0.6)(2001,-1.2)(2002,-2.0)(2003,-2.5)(2004,-2.6)(2005,-2.8)(2006,-3.5)(2007,-3.4)(2008,-3.5)(2009,-3.8)(2010,-4.3)(2011,-4.9)(2012,-5.2)(2013,-5.9)(2014,-6.6)(2015,-6.5)(2016,-6.9)(2017,-7.2)(2018,-7.8)(2019,-8.6)(2020,-9.4)(2021,-9.9)};
\addplot[sGRA, forget plot] coordinates {(1961,0.2)(1962,0.6)(1963,1.0)(1964,1.2)(1965,1.5)(1966,1.4)(1967,1.2)(1968,1.0)(1969,0.3)(1970,0.15)(1971,0.25)(1972,0.3)(1973,0.6)(1974,0.9)(1975,0.2)(1976,-0.85)(1977,-0.8)(1978,-0.55)(1979,-0.4)(1980,-0.4)(1981,-0.45)(1982,-0.45)(1983,-0.6)(1984,-0.8)(1985,-0.7)(1986,-0.85)(1987,-0.45)(1988,-0.15)(1989,-0.6)(1990,0)(1991,-0.1)(1992,0.2)(1993,0.55)(1994,0.8)(1995,0.7)(1996,0.05)(1997,-1.1)(1998,-1.35)(1999,-1.2)(2000,-1.1)(2001,-2.0)(2002,-2.6)(2003,-3.0)(2004,-3.15)(2005,-3.5)(2006,-4.8)(2007,-4.9)(2008,-4.8)(2009,-5.05)(2010,-5.7)(2011,-6.2)(2012,-6.45)(2013,-6.8)(2014,-7.45)(2015,-7.2)(2016,-7.35)(2017,-7.35)(2018,-8.2)(2019,-9.1)(2020,-9.75)(2021,-10.0)};
\addplot[sALF, forget plot] coordinates {(1963,0.8)(1964,0.95)(1965,1.25)(1966,1.1)(1967,1.5)(1968,0.95)(1969,-0.15)(1970,-1.25)(1971,-1.35)(1972,-1.8)(1973,-0.95)(1974,-0.3)(1975,0.15)(1976,0.45)(1977,0.6)(1978,0.95)(1979,0.45)(1980,0.25)(1981,0.45)(1982,0.55)(1983,0.6)(1984,0.8)(1985,0.95)(1986,1.1)(1987,2.4)(1988,0.55)(1989,0.3)(1990,0)(1991,0.3)(1992,0.8)(1993,1.6)(1994,1.95)(1995,1.85)(1996,1.2)(1997,0.05)(1998,-0.95)(1999,-2.25)(2000,-2.6)(2001,-3.5)(2002,-5.15)(2003,-7.6)(2004,-8.0)(2005,-9.1)(2006,-11.8)(2007,-12.05)(2008,-12.7)(2009,-13.7)(2010,-14.6)(2011,-15.45)(2012,-14.7)(2013,-15.45)(2014,-17.1)(2015,-18.65)(2016,-20.2)(2017,-21.05)(2018,-22.35)(2019,-24.0)(2020,-24.75)(2021,-26.0)};
\addplot[sREM, forget plot] coordinates {(1962,0.3)(1963,-0.55)(1964,0.3)(1965,0.85)(1966,0.85)(1967,1.15)(1968,1.0)(1969,0.15)(1970,-0.3)(1971,0.3)(1972,0.45)(1973,0.7)(1974,0.95)(1975,1.0)(1976,0.8)(1977,0.7)(1978,0.55)(1979,0.3)(1980,0.1)(1981,0.0)(1982,0.0)(1983,-0.15)(1984,-0.25)(1985,-0.3)(1986,-0.15)(1987,0.0)(1988,-0.45)(1989,0.05)(1990,0)(1991,0.3)(1992,0.8)(1993,1.45)(1994,1.85)(1995,1.95)(1996,1.45)(1997,0.05)(1998,-0.45)(1999,-0.7)(2000,-0.7)(2001,-0.95)(2002,-2.1)(2003,-3.0)(2004,-3.4)(2005,-3.75)(2006,-5.15)(2007,-5.4)(2008,-5.8)(2009,-6.3)(2010,-7.35)(2011,-8.75)(2012,-8.85)(2013,-10.0)(2014,-11.15)(2015,-11.25)(2016,-11.8)(2017,-11.5)(2018,-12.55)(2019,-13.45)(2020,-14.2)(2021,-15.2)};
\addplot[sENG, forget plot] coordinates {(1970,-0.4)(1971,-0.9)(1972,-1.0)(1973,-0.4)(1974,-0.1)(1975,0.5)(1976,1.0)(1977,1.6)(1978,1.0)(1979,0.7)(1980,0.3)(1981,0.2)(1982,0.8)(1983,1.1)(1984,0.9)(1985,1.0)(1986,0.95)(1987,1.2)(1988,-0.2)(1989,0.3)(1990,0)(1991,0.3)(1992,0.95)(1993,1.45)(1994,1.85)(1995,2.2)(1996,2.2)(1997,0.95)(1998,0.8)(1999,0.55)(2000,1.2)(2001,0.45)(2002,-0.7)(2003,-1.2)(2004,-1.1)(2005,-1.2)(2006,-2.25)(2007,-2.0)(2008,-2.25)(2009,-2.6)(2010,-3.15)(2011,-3.65)(2012,-3.9)(2013,-5.15)(2014,-6.3)(2015,-6.7)(2016,-6.8)(2017,-6.95)(2018,-7.85)(2019,-7.95)(2020,-8.2)(2021,-8.85)};
\addplot[sSTG, forget plot] coordinates {(1946,3.6)(1947,2.35)(1948,2.75)(1949,2.8)(1950,2.2)(1951,2.1)(1952,2.5)(1953,1.7)(1954,1.4)(1955,1.3)(1956,1.25)(1957,1.15)(1958,1.1)(1959,0.6)(1960,0.1)(1961,0.15)(1962,0.8)(1963,0.85)(1964,1.25)(1965,1.7)(1966,1.65)(1967,1.65)(1968,1.65)(1969,0.8)(1970,0.3)(1971,0.0)(1972,-0.3)(1973,-0.15)(1974,-0.45)(1975,-0.3)(1976,0.3)(1977,0.6)(1978,0.8)(1979,0.55)(1980,0.3)(1981,0.0)(1982,0.15)(1983,0.4)(1984,0.3)(1985,0.45)(1986,0.55)(1987,0.4)(1988,0.3)(1989,0.15)(1990,0)(1991,0.2)(1992,0.45)(1993,0.8)(1994,1.05)(1995,1.2)(1996,0.95)(1997,-0.1)(1998,-0.2)(1999,-0.1)(2000,0.2)(2001,-0.2)(2002,-1.1)(2003,-2.0)(2004,-2.35)(2005,-2.6)(2006,-3.0)(2007,-2.9)(2008,-2.95)(2009,-3.15)(2010,-3.65)(2011,-3.5)(2012,-2.9)(2013,-3.75)(2014,-4.5)(2015,-3.9)(2016,-3.9)(2017,-3.5)(2018,-4.65)(2019,-4.9)(2020,-5.05)(2021,-5.3)};
\addplot[sNIG, forget plot] coordinates {(1961,0.15)(1962,0.45)(1963,1.0)(1964,1.4)(1965,2.2)(1966,1.65)(1967,2.5)(1968,2.05)(1969,1.4)(1970,0.95)(1971,1.55)(1972,1.7)(1973,2.2)(1974,2.65)(1975,2.4)(1976,2.05)(1977,1.7)(1978,1.5)(1979,1.4)(1980,0.3)(1981,0.4)(1982,0.3)(1983,-0.15)(1984,0.0)(1985,-0.3)(1986,-0.25)(1987,0.0)(1988,-0.5)(1989,0.3)(1990,0)(1991,0.3)(1992,0.8)(1993,1.2)(1994,1.45)(1995,1.45)(1996,1.6)(1997,0.8)(1998,0.95)(1999,0.8)(2000,1.05)(2001,0.55)(2002,-0.95)(2003,-1.5)(2004,-1.65)(2005,-1.5)(2006,-2.75)(2007,-2.9)(2008,-3.0)(2009,-3.25)(2010,-3.65)(2011,-4.15)(2012,-3.9)(2013,-4.8)(2014,-5.65)(2015,-5.15)(2016,-5.3)(2017,-4.8)(2018,-5.8)(2019,-6.2)(2020,-6.05)(2021,-6.45)};
\legendentries
\addlegendimage{sREM}\addlegendentry{Rembesdal}
\addlegendimage{sSTB}\addlegendentry{STB Storbreen}
\addlegendimage{sSTG}\addlegendentry{STG Storglaciären}
\node[font=\nar\fontsize{10.35}{12}\selectfont, text=black!70] at (axis cs:1975.0,-11.5) {Scandinavia};
\node[font=\labf, text=black!80] at (axis cs:2024.9,-4.7) {STG};
\node[font=\labf, text=black!80] at (axis cs:2024.9,-6.7) {NIG};
\node[font=\labf, text=black!80] at (axis cs:2024.9,-8.5) {ENG};
\node[font=\labf, text=black!80] at (axis cs:2024.9,-10.7) {GRA HEL};
\node[font=\labf, text=black!80] at (axis cs:2024.9,-13.5) {STB};
\node[font=\labf, text=black!80] at (axis cs:2024.9,-15.1) {REM};
\node[font=\labf, text=black!80] at (axis cs:2024.9,-27.2) {ALF};
\end{axis}

\node[font=\bfseries\fontsize{11}{12}\selectfont] at (19.2pt,508.4pt) {a};
\node[font=\bfseries\fontsize{11}{12}\selectfont] at (335pt,513pt) {b};
\node[font=\bfseries\fontsize{11}{12}\selectfont] at (17.2pt,263.4pt) {c};
\node[font=\bfseries\fontsize{11}{12}\selectfont] at (335.4pt,261.6pt) {d};
\end{tikzpicture}
\end{document}
